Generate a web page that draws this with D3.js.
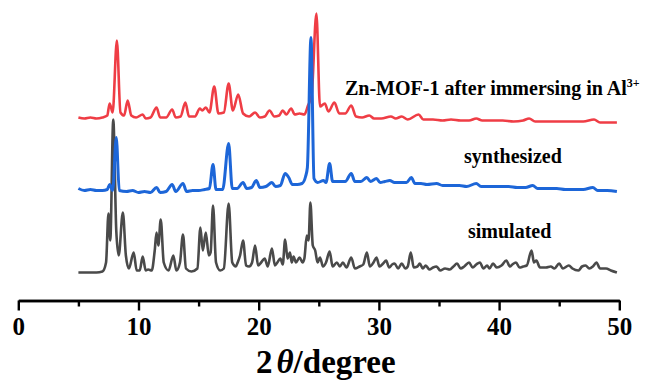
<!DOCTYPE html>
<html>
<head>
<meta charset="utf-8">
<script src="https://cdn.jsdelivr.net/npm/d3@7"></script>
<style>
  html, body { margin: 0; padding: 0; background: #fff; }
  svg { display: block; }
  text { font-family: "Liberation Serif", "Times New Roman", serif; font-weight: bold; fill: #000; }
</style>
</head>
<body>
<svg id="chart" width="652" height="380"></svg>
<script>
// ---- Data (2θ in degrees, intensity in arbitrary units, already stacked/offset as plotted) ----
const seriesNames = ["simulated", "Zn-MOF-1 after immersing in Al", "synthesized"];

const simulated = [
  [5.0,28],[6.5,28],[7.0,29],[7.3,38],[7.5,87],[7.65,60],[7.9,181],[8.15,70],[8.35,45],[8.7,88],
  [8.95,45],[9.2,32],[9.6,48],[9.85,30],[10.1,30],[10.35,44],[10.6,30],[10.8,31],[11.1,30],[11.35,50],
  [11.5,68],[11.65,55],[11.85,81],[12.1,38],[12.5,30],[12.9,45],[13.15,30],[13.45,38],[13.7,66],[13.95,32],
  [14.4,29],[14.9,32],[15.15,73],[15.35,50],[15.6,68],[15.85,45],[16.0,48],[16.2,95],[16.45,38],[16.8,30],
  [17.1,32],[17.5,97],[17.8,38],[18.1,34],[18.25,38],[18.45,45],[18.7,60],[18.95,35],[19.2,34],[19.45,38],
  [19.7,55],[19.95,35],[20.2,38],[20.5,42],[20.75,34],[21.1,52],[21.35,35],[21.55,38],[21.8,42],[22.0,36],
  [22.2,61],[22.4,42],[22.6,48],[22.75,38],[22.9,44],[23.1,38],[23.4,43],[23.65,38],[23.8,42],[24.0,65],
  [24.15,60],[24.3,98],[24.5,55],[24.7,50],[24.9,38],[25.1,43],[25.35,34],[25.6,38],[25.9,49],[26.15,34],
  [26.5,38],[26.75,34],[27.0,38],[27.3,33],[27.7,43],[28.0,32],[28.4,34],[28.7,36],[29.0,48],[29.25,34],
  [29.55,38],[29.8,43],[30.05,34],[30.35,37],[30.6,40],[30.85,33],[31.1,36],[31.3,37],[31.6,32],[31.9,37],
  [32.2,32],[32.4,34],[32.65,48],[32.9,33],[33.2,34],[33.4,37],[33.65,32],[33.9,35],[34.2,31],[34.5,33],
  [34.8,34],[35.1,30],[35.5,32],[35.9,31],[36.2,34],[36.5,37],[36.8,32],[37.1,34],[37.5,38],[37.8,33],
  [38.1,36],[38.4,38],[38.7,32],[39.0,35],[39.2,32],[39.5,37],[39.8,33],[40.2,35],[40.6,40],[40.9,34],
  [41.1,36],[41.4,38],[41.7,33],[42.0,34],[42.3,35],[42.7,50],[42.9,38],[43.1,40],[43.4,33],[43.9,33],
  [44.3,34],[44.6,32],[45.0,37],[45.3,32],[45.8,35],[46.1,32],[46.6,30],[46.9,34],[47.2,35],[47.5,32],
  [47.8,34],[48.1,38],[48.4,32],[48.9,32],[49.3,30],[49.8,28]
];

const synthesized = [
  [5.0,112],[5.5,110],[6.0,111],[6.5,110],[7.0,110],[7.4,111],[7.6,116],[7.85,110],[8.15,163],[8.4,110],
  [9.0,109],[9.5,110],[10.0,108],[10.5,109],[11.0,108],[11.5,113],[11.8,108],[12.3,109],[12.8,116],[13.1,109],
  [13.7,117],[14.0,109],[14.5,110],[15.0,110],[15.5,111],[15.9,112],[16.2,136],[16.45,111],[17.0,111],[17.5,157],
  [17.8,112],[18.2,112],[18.7,118],[19.0,112],[19.4,113],[19.8,120],[20.1,113],[20.6,114],[21.1,118],[21.4,114],
  [21.8,115],[22.2,127],[22.5,123],[22.8,116],[23.2,116],[23.6,117],[23.9,124],[24.05,133],[24.35,263],[24.6,122],
  [24.9,118],[25.4,120],[25.6,118],[25.9,137],[26.15,119],[26.6,119],[27.2,119],[27.7,127],[28.0,119],[28.5,119],
  [29.0,123],[29.3,119],[29.8,122],[30.1,118],[30.5,119],[30.9,120],[31.3,118],[31.8,118],[32.3,118],[32.7,123],
  [33.0,117],[33.5,117],[34.0,116],[34.8,117],[35.3,115],[36.0,115],[36.7,115],[37.3,114],[38.1,117],[38.5,114],
  [39.2,114],[40.0,114],[40.8,114],[41.5,113],[42.2,113],[42.8,115],[43.2,112],[44.0,112],[44.8,112],[45.5,111],
  [46.2,111],[47.0,111],[47.8,113],[48.2,110],[49.0,110],[49.8,109]
];

const immersed = [
  [5.0,183],[5.5,182],[6.0,183],[6.5,182],[7.0,183],[7.4,185],[7.6,197],[7.85,188],[8.2,260],[8.5,188],
  [8.8,185],[9.1,200],[9.4,185],[9.8,183],[10.35,186],[10.6,182],[11.0,183],[11.5,193],[11.8,183],[12.3,183],
  [12.8,191],[13.1,183],[13.5,184],[13.9,198],[14.2,184],[14.7,184],[15.1,192],[15.3,190],[15.6,193],[15.9,188],
  [16.3,214],[16.65,187],[17.1,188],[17.5,217],[17.85,190],[18.3,206],[18.7,187],[19.2,184],[19.7,188],[20.1,183],
  [20.5,184],[20.9,190],[21.3,184],[21.7,185],[22.0,190],[22.3,186],[22.7,192],[23.0,186],[23.4,187],[23.8,186],
  [24.1,195],[24.4,205],[24.8,287],[25.1,194],[25.5,197],[25.8,189],[26.3,198],[26.7,187],[27.2,187],[27.7,195],
  [28.1,184],[28.6,183],[29.2,185],[29.6,182],[30.2,182],[31.0,184],[31.4,182],[31.9,184],[32.4,181],[33.3,186],
  [33.7,181],[34.5,181],[35.3,180],[36.0,181],[36.8,180],[37.5,180],[38.1,182],[38.6,180],[39.5,180],[40.3,180],
  [41.2,179],[42.0,180],[42.5,182],[43.0,179],[44.0,179],[45.0,179],[46.0,179],[47.0,179],[47.9,181],[48.4,178],
  [49.2,178],[49.8,178]
];

const xMajorTicks = [0, 10, 20, 30, 40, 50];
const xMinorTicks = [5, 15, 25, 35, 45];
const xDomain = [0, 50];
const yDomain = [0, 300];

// ---- Drawing ----
const svg = d3.select("#chart");
const x = d3.scaleLinear().domain(xDomain).range([18.3, 619.3]);
const y = d3.scaleLinear().domain(yDomain).range([300.5, 0.5]);

const line = d3.line()
  .x(d => x(d[0]))
  .y(d => y(d[1]))
  .curve(d3.curveMonotoneX);

const traces = [
  { data: simulated, color: "#4a4a4a", w: 2.6 },
  { data: immersed, color: "#ef3d45", w: 2.6 },
  { data: synthesized, color: "#1d66d8", w: 3.0 }
];

svg.append("g").selectAll("path")
  .data(traces)
  .join("path")
  .attr("d", d => line(d.data))
  .attr("fill", "none")
  .attr("stroke", d => d.color)
  .attr("stroke-width", d => d.w)
  .attr("stroke-linejoin", "round");

// axis
const axisMajor = d3.axisBottom(x).tickValues(xMajorTicks).tickSize(10).tickSizeOuter(0).tickPadding(7)
  .tickFormat(d3.format("d"));
const axisMinor = d3.axisBottom(x).tickValues(xMinorTicks).tickSize(6).tickSizeOuter(0).tickFormat("");

const gMinor = svg.append("g").attr("transform", `translate(0,${y(0)})`).call(axisMinor);
const gMajor = svg.append("g").attr("transform", `translate(0,${y(0)})`).call(axisMajor);
[gMinor, gMajor].forEach(g => {
  g.select(".domain").attr("stroke", "#000").attr("stroke-width", 2.6);
  g.selectAll(".tick line").attr("stroke", "#000").attr("stroke-width", 2.4);
});
gMajor.selectAll(".tick text")
  .attr("fill", "#000")
  .style("font-family", '"Liberation Serif", "Times New Roman", serif')
  .style("font-weight", "bold")
  .style("font-size", "25px");

// axis title
const title = svg.append("text")
  .attr("x", x(25) + 7)
  .attr("y", 373)
  .attr("text-anchor", "middle")
  .style("font-size", "33px");
title.append("tspan").text("2");
title.append("tspan").attr("font-style", "italic").attr("dx", 4).text("θ");
title.append("tspan").text("/degree");

// series labels
const lab1 = svg.append("text").attr("x", 345).attr("y", 95).style("font-size", "20px");
lab1.append("tspan").text(seriesNames[1]);
lab1.append("tspan").attr("dy", -8).style("font-size", "12px").text("3+");

svg.append("text").attr("x", 464).attr("y", 163).style("font-size", "20px").text(seriesNames[2]);
svg.append("text").attr("x", 468).attr("y", 238).style("font-size", "20px").text(seriesNames[0]);
</script>
</body>
</html>
